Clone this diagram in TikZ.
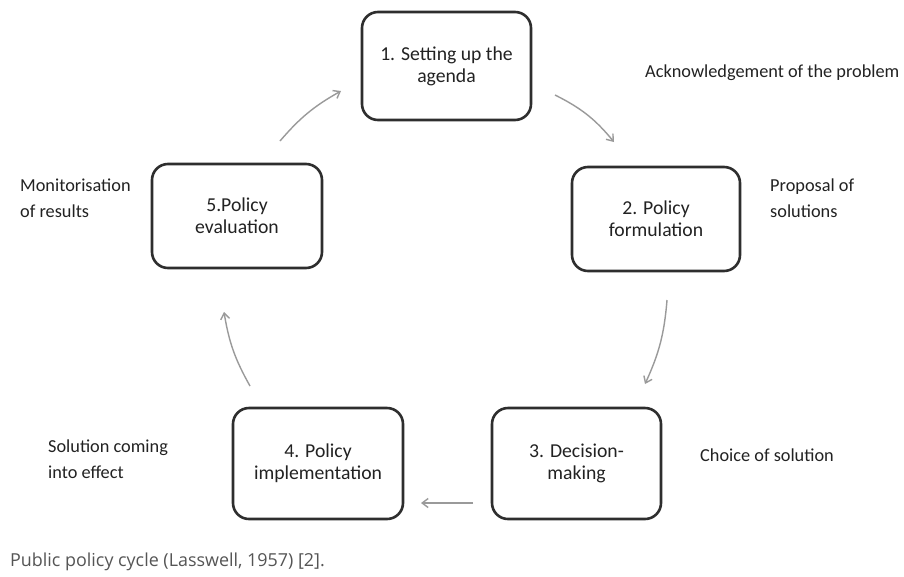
\documentclass[tikz,border=0pt]{standalone}
\usepackage{fontspec}
\setmainfont{Carlito}
\newfontfamily\capfont{Open Sans}
\usetikzlibrary{arrows.meta}
\definecolor{boxline}{HTML}{2E2E2E}
\definecolor{arrowgray}{HTML}{9A9A9A}
\definecolor{captiongray}{HTML}{555555}
\definecolor{textdark}{HTML}{222222}
\begin{document}
\begin{tikzpicture}[x=1pt,y=-1pt,
  stagebox/.style={draw=boxline,line width=2.6pt,rounded corners=16pt,fill=white,align=center,text=textdark,font=\fontsize{19.7}{22}\selectfont,inner sep=0pt},
  flow/.style={draw=arrowgray,line width=1.4pt,-{Straight Barb[length=6pt,width=9pt]}},
  note/.style={align=left,anchor=west,text=textdark,font=\fontsize{18.3}{26}\selectfont,inner sep=0pt}]
\useasboundingbox[fill=white] (0,0) rectangle (904,576);
\node[stagebox,minimum width=169pt,minimum height=108pt] (s1) at (446.5,66) {1. Setting up the\\agenda};
\node[stagebox,minimum width=168pt,minimum height=104pt] (s2) at (656,219) {2. Policy\\formulation};
\node[stagebox,minimum width=169pt,minimum height=111pt] (s3) at (576.5,463.5) {3. Decision-\\making};
\node[stagebox,minimum width=170pt,minimum height=111pt] (s4) at (318,463.5) {4. Policy\\implementation};
\node[stagebox,minimum width=170pt,minimum height=104pt] (s5) at (237,216) {5.Policy\\evaluation};
\coordinate (a1s) at (555,95); \coordinate (a1e) at (614,142);
\coordinate (a2s) at (667,300); \coordinate (a2e) at (645,384);
\coordinate (a3s) at (473,503); \coordinate (a3e) at (421,503);
\coordinate (a4s) at (250,386); \coordinate (a4e) at (224,312);
\coordinate (a5s) at (280,141); \coordinate (a5e) at (341,91);
\draw[flow] (a1s) to[bend left=12] (a1e);
\draw[flow] (a2s) to[bend left=10] (a2e);
\draw[flow] (a3s) -- (a3e);
\draw[flow] (a4s) to[bend left=10] (a4e);
\draw[flow] (a5s) to[bend left=10] (a5e);
\node[note] (n1) at (645,73) {Acknowledgement of the problem};
\node[note] (n2) at (770,198) {Proposal of\\solutions};
\node[note] (n3) at (700,455) {Choice of solution};
\node[note] (n4) at (48,459) {Solution coming\\into effect};
\node[note] (n5) at (20,198) {Monitorisation\\of results};
\node[note,text=captiongray,font=\capfont\fontsize{17.9}{20}\selectfont] (cap) at (10,562) {Public policy cycle (Lasswell, 1957) [2].};
\end{tikzpicture}
\end{document}
